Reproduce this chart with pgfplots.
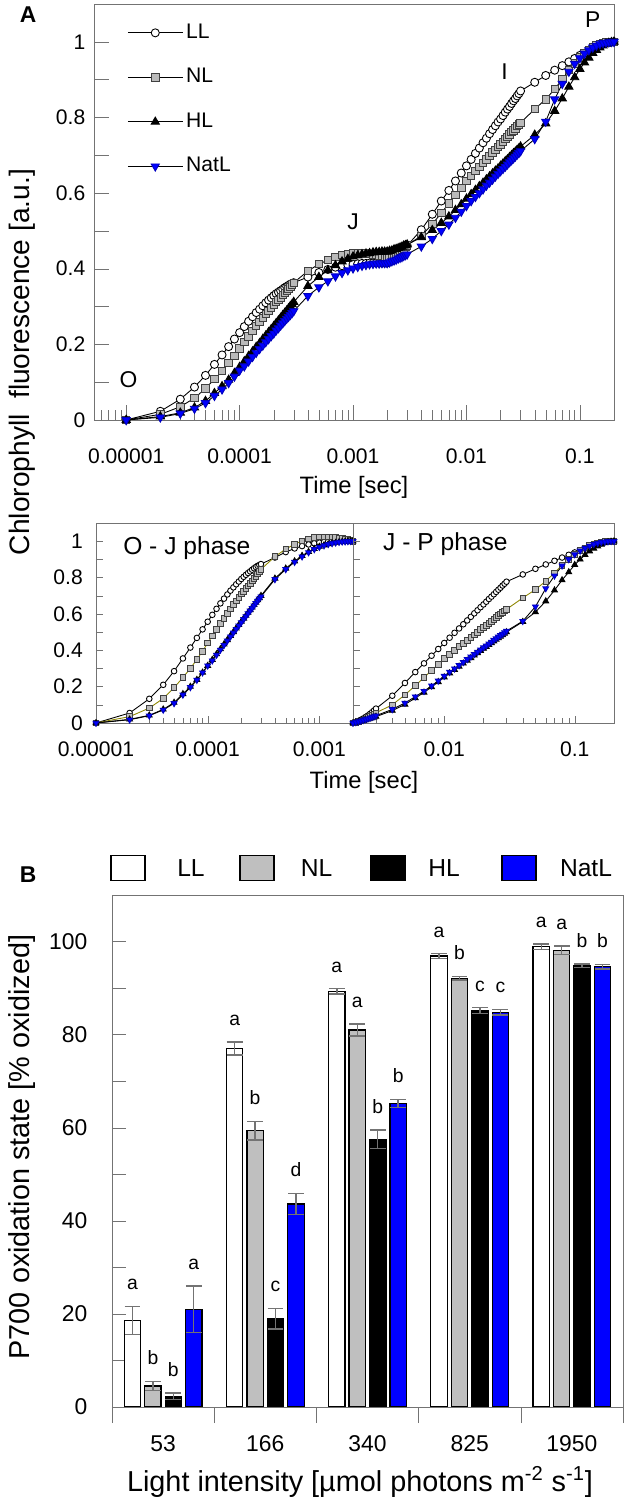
\documentclass[border=0pt]{standalone}
\usepackage{fontspec}
\setmainfont{Liberation Sans}
\usepackage{pgfplots}
\usepackage{pgfplotstable}
\pgfplotsset{compat=1.18}

\newcommand{\fsz}[1]{\fontsize{#1pt}{#1pt}\selectfont}

% OJIP transients, (F-F0)/(Fm-F0)
\pgfplotstableread{
t LL NL HL NatL
1e-5 0 0 0 0
2e-5 0.023 0.015 0.009 0.007
3e-5 0.055 0.035 0.019 0.017
4e-5 0.087 0.058 0.033 0.030
5e-5 0.118 0.083 0.050 0.045
6e-5 0.147 0.108 0.071 0.064
7e-5 0.172 0.129 0.089 0.081
8e-5 0.194 0.151 0.106 0.098
9e-5 0.214 0.170 0.124 0.115
1.0e-4 0.231 0.189 0.140 0.131
1.1e-4 0.247 0.206 0.155 0.142
1.2e-4 0.261 0.221 0.169 0.155
1.3e-4 0.273 0.235 0.181 0.167
1.4e-4 0.284 0.248 0.193 0.178
1.5e-4 0.293 0.259 0.203 0.188
1.6e-4 0.302 0.270 0.214 0.197
1.7e-4 0.310 0.280 0.223 0.206
1.8e-4 0.317 0.289 0.232 0.214
1.9e-4 0.323 0.297 0.240 0.222
2.0e-4 0.329 0.305 0.248 0.229
2.1e-4 0.334 0.312 0.256 0.237
2.2e-4 0.338 0.318 0.263 0.243
2.3e-4 0.342 0.324 0.270 0.250
2.4e-4 0.346 0.330 0.277 0.256
2.5e-4 0.350 0.336 0.283 0.262
2.6e-4 0.353 0.341 0.289 0.268
2.7e-4 0.356 0.347 0.295 0.273
2.8e-4 0.359 0.352 0.301 0.278
2.9e-4 0.361 0.358 0.306 0.283
3.0e-4 0.363 0.363 0.312 0.288
4e-4 0.378 0.394 0.354 0.328
5e-4 0.390 0.412 0.378 0.351
6e-4 0.398 0.423 0.396 0.367
7e-4 0.404 0.431 0.409 0.380
8e-4 0.408 0.436 0.419 0.389
9e-4 0.410 0.439 0.426 0.396
1.0e-3 0.412 0.440 0.432 0.401
1.1e-3 0.413 0.440 0.435 0.405
1.2e-3 0.414 0.440 0.438 0.408
1.3e-3 0.414 0.440 0.440 0.410
1.4e-3 0.415 0.439 0.441 0.412
1.5e-3 0.415 0.438 0.443 0.413
1.6e-3 0.415 0.437 0.444 0.414
1.7e-3 0.415 0.435 0.444 0.414
1.8e-3 0.415 0.433 0.445 0.415
1.9e-3 0.415 0.432 0.445 0.415
2.0e-3 0.415 0.430 0.445 0.415
2.1e-3 0.418 0.432 0.447 0.417
2.2e-3 0.421 0.434 0.448 0.420
2.3e-3 0.426 0.437 0.451 0.422
2.4e-3 0.430 0.440 0.452 0.424
2.5e-3 0.434 0.443 0.454 0.427
2.6e-3 0.439 0.447 0.456 0.429
2.7e-3 0.444 0.450 0.458 0.431
2.8e-3 0.450 0.454 0.461 0.434
2.9e-3 0.455 0.458 0.462 0.436
3.0e-3 0.461 0.462 0.464 0.438
4e-3 0.503 0.487 0.483 0.459
5e-3 0.544 0.518 0.502 0.479
6e-3 0.579 0.547 0.521 0.500
7e-3 0.607 0.573 0.538 0.517
8e-3 0.632 0.595 0.555 0.535
9e-3 0.653 0.614 0.570 0.551
0.010 0.672 0.632 0.585 0.566
0.011 0.689 0.646 0.597 0.579
0.012 0.705 0.658 0.608 0.590
0.013 0.719 0.669 0.618 0.600
0.014 0.733 0.680 0.627 0.610
0.015 0.745 0.689 0.636 0.620
0.016 0.757 0.698 0.644 0.628
0.017 0.768 0.707 0.652 0.636
0.018 0.778 0.714 0.659 0.644
0.019 0.788 0.722 0.665 0.651
0.020 0.796 0.729 0.672 0.658
0.021 0.805 0.736 0.678 0.664
0.022 0.814 0.743 0.684 0.670
0.023 0.822 0.749 0.689 0.676
0.024 0.829 0.755 0.695 0.682
0.025 0.837 0.761 0.700 0.687
0.026 0.844 0.766 0.705 0.692
0.027 0.850 0.771 0.709 0.697
0.028 0.857 0.777 0.714 0.702
0.029 0.863 0.781 0.718 0.706
0.030 0.870 0.786 0.723 0.711
0.04 0.893 0.822 0.754 0.743
0.05 0.911 0.848 0.784 0.789
0.06 0.925 0.875 0.817 0.848
0.07 0.937 0.901 0.850 0.889
0.08 0.947 0.925 0.881 0.921
0.09 0.956 0.943 0.906 0.942
0.10 0.964 0.959 0.928 0.957
0.11 0.970 0.970 0.945 0.969
0.12 0.976 0.979 0.958 0.978
0.13 0.981 0.986 0.970 0.985
0.14 0.986 0.991 0.978 0.990
0.15 0.990 0.994 0.985 0.994
0.16 0.994 0.997 0.990 0.997
0.17 0.997 0.998 0.995 0.998
0.18 0.998 0.999 0.997 0.999
0.19 0.999 1.000 0.999 1.000
0.20 1.000 1.000 1.000 1.000
}\ojip

% O-J phase, normalised to F at 2 ms
\pgfplotstableread{
t LL NL HL NatL
1e-5 0 0 0 0
2e-5 0.055 0.035 0.020 0.018
3e-5 0.133 0.082 0.042 0.040
4e-5 0.210 0.135 0.075 0.072
5e-5 0.285 0.194 0.112 0.108
6e-5 0.355 0.250 0.160 0.155
7e-5 0.415 0.300 0.200 0.196
8e-5 0.468 0.350 0.238 0.236
9e-5 0.515 0.395 0.278 0.277
1.0e-4 0.557 0.440 0.315 0.315
1.1e-4 0.595 0.478 0.348 0.343
1.2e-4 0.628 0.514 0.379 0.374
1.3e-4 0.658 0.546 0.407 0.402
1.4e-4 0.684 0.576 0.433 0.428
1.5e-4 0.707 0.603 0.457 0.452
1.6e-4 0.728 0.628 0.480 0.475
1.7e-4 0.746 0.651 0.501 0.496
1.8e-4 0.763 0.672 0.521 0.516
1.9e-4 0.778 0.691 0.540 0.535
2.0e-4 0.792 0.709 0.558 0.553
2.1e-4 0.804 0.725 0.575 0.570
2.2e-4 0.815 0.740 0.591 0.586
2.3e-4 0.825 0.754 0.607 0.602
2.4e-4 0.834 0.768 0.622 0.617
2.5e-4 0.843 0.781 0.636 0.631
2.6e-4 0.851 0.794 0.650 0.645
2.7e-4 0.858 0.807 0.663 0.658
2.8e-4 0.864 0.819 0.676 0.671
2.9e-4 0.869 0.832 0.688 0.683
3.0e-4 0.874 0.845 0.700 0.695
4e-4 0.910 0.915 0.795 0.790
5e-4 0.940 0.957 0.850 0.845
6e-4 0.960 0.983 0.890 0.885
7e-4 0.973 1.002 0.920 0.915
8e-4 0.982 1.013 0.942 0.938
9e-4 0.988 1.020 0.958 0.955
1.0e-3 0.992 1.023 0.970 0.967
1.1e-3 0.995 1.024 0.978 0.976
1.2e-3 0.997 1.024 0.984 0.983
1.3e-3 0.998 1.023 0.989 0.988
1.4e-3 0.999 1.021 0.992 0.992
1.5e-3 1.000 1.018 0.995 0.995
1.6e-3 1.000 1.015 0.997 0.997
1.7e-3 1.000 1.012 0.998 0.998
1.8e-3 1.000 1.008 0.999 0.999
1.9e-3 1.000 1.004 1.000 1.000
2.0e-3 1.000 1.000 1.000 1.000
}\oj

% J-P phase, normalised between F at 2 ms and Fm
\pgfplotstableread{
t LL NL HL NatL
2.0e-3 0 0 0 0
2.1e-3 0.005 0.003 0.003 0.004
2.2e-3 0.011 0.007 0.006 0.008
2.3e-3 0.018 0.012 0.010 0.012
2.4e-3 0.025 0.017 0.013 0.016
2.5e-3 0.033 0.023 0.017 0.020
2.6e-3 0.041 0.029 0.020 0.024
2.7e-3 0.050 0.035 0.024 0.028
2.8e-3 0.059 0.042 0.028 0.032
2.9e-3 0.069 0.049 0.031 0.036
3.0e-3 0.079 0.056 0.035 0.040
4e-3 0.150 0.100 0.068 0.075
5e-3 0.220 0.155 0.102 0.110
6e-3 0.280 0.205 0.137 0.145
7e-3 0.328 0.250 0.168 0.175
8e-3 0.370 0.290 0.198 0.205
9e-3 0.407 0.323 0.226 0.232
0.010 0.440 0.355 0.252 0.258
0.011 0.469 0.378 0.274 0.280
0.012 0.496 0.400 0.293 0.299
0.013 0.520 0.420 0.311 0.317
0.014 0.543 0.438 0.328 0.334
0.015 0.564 0.455 0.344 0.350
0.016 0.584 0.470 0.358 0.364
0.017 0.603 0.485 0.372 0.378
0.018 0.620 0.499 0.385 0.391
0.019 0.637 0.513 0.397 0.403
0.020 0.652 0.525 0.409 0.415
0.021 0.667 0.537 0.419 0.425
0.022 0.682 0.549 0.430 0.436
0.023 0.695 0.560 0.440 0.446
0.024 0.708 0.570 0.450 0.456
0.025 0.721 0.580 0.459 0.465
0.026 0.733 0.590 0.468 0.474
0.027 0.744 0.599 0.476 0.482
0.028 0.756 0.608 0.484 0.490
0.029 0.766 0.616 0.492 0.498
0.030 0.777 0.625 0.500 0.506
0.04 0.817 0.688 0.557 0.560
0.05 0.848 0.734 0.610 0.640
0.06 0.872 0.780 0.670 0.740
0.07 0.892 0.826 0.730 0.810
0.08 0.910 0.868 0.786 0.865
0.09 0.925 0.900 0.830 0.900
0.10 0.938 0.928 0.870 0.927
0.11 0.949 0.948 0.900 0.947
0.12 0.959 0.963 0.925 0.962
0.13 0.968 0.975 0.945 0.974
0.14 0.976 0.984 0.960 0.983
0.15 0.983 0.990 0.972 0.989
0.16 0.989 0.994 0.982 0.994
0.17 0.994 0.997 0.990 0.997
0.18 0.997 0.999 0.995 0.999
0.19 0.999 1.000 0.998 1.000
0.20 1.000 1.000 1.000 1.000
}\jp

% P700 oxidation (mean, error)
\pgfplotstableread{
x LL LLe NL NLe HL HLe NatL NatLe
0 18.6 3.0 4.5 1.0 2.3 0.7 21.0 5.0
1 77.0 1.4 59.4 2.0 19.0 2.2 43.6 2.3
2 89.3 0.6 81.0 1.3 57.5 2.0 65.2 0.9
3 96.9 0.5 92.1 0.4 85.2 0.6 84.8 0.6
4 98.9 0.6 98.1 0.9 94.8 0.4 94.6 0.5
}\pseven

% letters: bar position, top of error bar, letter
\pgfplotstableread{
x y lab
-0.3 21.6 a
-0.1 5.5 b
0.1 3.0 b
0.3 26.0 a
0.7 78.4 a
0.9 61.4 b
1.1 21.2 c
1.3 45.9 d
1.7 89.9 a
1.9 82.3 a
2.1 59.5 b
2.3 66.1 b
2.7 97.4 a
2.9 92.5 b
3.1 85.8 c
3.3 85.4 c
3.7 99.5 a
3.9 99.0 a
4.1 95.2 b
4.3 95.1 b
}\letters

\definecolor{axgray}{gray}{0.45}

\pgfplotsset{
  sLL/.style={black, line width=0.5pt, mark=*, mark options={fill=white, draw=black, line width=0.5pt}},
  sNL/.style={black, line width=0.5pt, mark=square*, mark options={fill=black!27, draw=black!75, line width=0.5pt}},
  sHL/.style={black, line width=0.5pt, mark=triangle*, mark options={fill=black, draw=black}},
  sNatL/.style={black, line width=0.5pt, mark=triangle*, mark options={rotate=180, fill=blue, draw=blue!75!black}},
  perr/.style={error bars/.cd, y dir=both, y explicit,
    error bar style={axgray, line width=0.8pt},
    error mark options={rotate=90, mark size=4.5pt, axgray, line width=0.8pt}},
}

\begin{document}
\begin{tikzpicture}
\path[use as bounding box] (0,0) rectangle (12.6,30.1);

% ---------- panel A, full transient
\begin{axis}[
  xmode=log, scale only axis, anchor=south west,
  at={(1.88cm,21.70cm)}, width=10.4cm, height=8.32cm,
  xmin=5.2e-6, xmax=0.2, ymin=0, ymax=1.1,
  xtick={1e-5,1e-4,1e-3,1e-2,1e-1},
  xticklabels={0.00001,0.0001,0.001,0.01,0.1},
  minor xtick={6e-6,7e-6,8e-6,9e-6,2e-5,3e-5,4e-5,5e-5,6e-5,7e-5,8e-5,9e-5,
    2e-4,3e-4,4e-4,5e-4,6e-4,7e-4,8e-4,9e-4,2e-3,3e-3,4e-3,5e-3,6e-3,7e-3,8e-3,9e-3,
    2e-2,3e-2,4e-2,5e-2,6e-2,7e-2,8e-2,9e-2},
  ytick={0,0.1,0.2,0.3,0.4,0.5,0.6,0.7,0.8,0.9,1},
  yticklabels={0,,0.2,,0.4,,0.6,,0.8,,1},
  xtick pos=left, ytick pos=left, tick align=inside,
  axis line style={axgray}, tick style={axgray},
  tick label style={font=\fsz{12}},
  major tick length=0.3cm, minor tick length=0.2cm,
  xticklabel shift=0.45cm, yticklabel shift=0.05cm,
  legend style={at={(rel axis cs:0,1)}, anchor=north west, xshift=0.66cm, yshift=-0.38cm,
    draw=none, fill=none, inner sep=0pt, row sep=0.51cm, column sep=0.06cm,
    font=\fsz{12}, nodes={inner sep=0pt, text height=0.3cm, text depth=0.08cm}},
  legend cell align=left,
  legend image code/.code={\draw[mark repeat=2, mark phase=2, #1]
    plot coordinates {(0cm,0cm) (0.55cm,0cm) (1.1cm,0cm)};},
]
\addplot[sLL, mark size=2.3pt] table[x=t, y=LL] {\ojip};
\addplot[sNL, mark size=2.1pt] table[x=t, y=NL] {\ojip};
\addplot[sHL, mark size=2.7pt] table[x=t, y=HL] {\ojip};
\addplot[sNatL, mark size=2.7pt] table[x=t, y=NatL] {\ojip};
\legend{LL,NL,HL,NatL}
\node[font=\fsz{13}] at (axis cs:1.05e-5,0.106) {O};
\node[font=\fsz{13}] at (axis cs:1e-3,0.525) {J};
\node[font=\fsz{13}] at (axis cs:0.0217,0.921) {I};
\node[font=\fsz{13}] at (axis cs:0.13,1.058) {P};
\end{axis}

% ---------- panel A, O-J phase
\begin{axis}[
  xmode=log, scale only axis, anchor=south west,
  at={(1.92cm,15.64cm)}, width=5.14cm, height=4cm,
  xmin=1e-5, xmax=2e-3, ymin=0, ymax=1.1,
  xtick={1e-5,1e-4,1e-3}, xticklabels={0.00001,0.0001,0.001},
  minor xtick={2e-5,3e-5,4e-5,5e-5,6e-5,7e-5,8e-5,9e-5,2e-4,3e-4,4e-4,5e-4,6e-4,7e-4,8e-4,9e-4},
  ytick={0,0.1,0.2,0.3,0.4,0.5,0.6,0.7,0.8,0.9,1},
  yticklabels={0,,0.2,,0.4,,0.6,,0.8,,1},
  xtick pos=left, ytick pos=left, tick align=inside,
  axis line style={axgray}, tick style={axgray},
  tick label style={font=\fsz{12}},
  major tick length=0.14cm, minor tick length=0.1cm,
  xticklabel shift=0.25cm, yticklabel shift=0.14cm,
]
\addplot[sLL, mark size=1.6pt] table[x=t, y=LL] {\oj};
\addplot[sNL, olive, mark size=1.6pt] table[x=t, y=NL] {\oj};
\addplot[sHL, mark size=1.9pt] table[x=t, y=HL] {\oj};
\addplot[sNatL, mark size=1.9pt] table[x=t, y=NatL] {\oj};
\node[anchor=west, font=\fsz{14}] at (rel axis cs:0.082,0.875) {O - J phase};
\end{axis}

% ---------- panel A, J-P phase
\begin{axis}[
  xmode=log, scale only axis, anchor=south west,
  at={(7.06cm,15.64cm)}, width=5.22cm, height=4cm,
  xmin=2e-3, xmax=0.2, ymin=0, ymax=1.1,
  xtick={1e-2,1e-1}, xticklabels={0.01,0.1},
  minor xtick={3e-3,4e-3,5e-3,6e-3,7e-3,8e-3,9e-3,2e-2,3e-2,4e-2,5e-2,6e-2,7e-2,8e-2,9e-2},
  ytick={0,0.1,0.2,0.3,0.4,0.5,0.6,0.7,0.8,0.9,1},
  yticklabels={},
  xtick pos=left, ytick pos=left, tick align=inside,
  axis line style={axgray}, tick style={axgray},
  tick label style={font=\fsz{12}},
  major tick length=0.14cm, minor tick length=0.1cm,
  xticklabel shift=0.25cm,
]
\addplot[sLL, mark size=1.6pt] table[x=t, y=LL] {\jp};
\addplot[sNL, olive, mark size=1.6pt] table[x=t, y=NL] {\jp};
\addplot[sHL, mark size=1.9pt] table[x=t, y=HL] {\jp};
\addplot[sNatL, mark size=1.9pt] table[x=t, y=NatL] {\jp};
\node[anchor=west, font=\fsz{14}] at (rel axis cs:0.092,0.893) {J - P phase};
\end{axis}

\node[font=\bfseries\fsz{13}] at (0.56,29.8) {A};
\node[font=\fsz{13.5}] at (7.08,20.36) {Time [sec]};
\node[font=\fsz{13.5}] at (7.28,14.46) {Time [sec]};
\node[font=\fsz{16}, rotate=90] at (0.44,22.86) {Chlorophyll\ \ fluorescence [a.u.]};

% ---------- panel B
\begin{axis}[
  scale only axis, anchor=south west,
  at={(2.24cm,1.96cm)}, width=10.22cm, height=10.24cm,
  ybar, bar width=0.16,
  xmin=-0.5, xmax=4.5, ymin=0, ymax=110,
  xtick={0,1,2,3,4}, xticklabels={53,166,340,825,1950},
  extra x ticks={-0.5,0.5,1.5,2.5,3.5,4.5}, extra x tick labels={},
  extra x tick style={tick align=outside, major tick length=0.32cm},
  ytick={0,20,40,60,80,100}, yticklabels={0,20,40,60,80,100},
  minor ytick={0,10,20,30,40,50,60,70,80,90,100},
  major tick length=0pt, minor tick length=0.28cm,
  xtick pos=left, ytick pos=left, tick align=inside,
  axis line style={axgray}, tick style={axgray},
  tick label style={font=\fsz{13}},
  xticklabel shift=0.45cm, yticklabel shift=0.37cm,
]
\addplot[bar shift=-0.3, fill=white, draw=black, line width=0.7pt, perr]
  table[x=x, y=LL, y error=LLe] {\pseven};
\addplot[bar shift=-0.1, fill=black!25, draw=black, line width=0.7pt, perr]
  table[x=x, y=NL, y error=NLe] {\pseven};
\addplot[bar shift=0.1, fill=black, draw=black, line width=0.7pt, perr]
  table[x=x, y=HL, y error=HLe] {\pseven};
\addplot[bar shift=0.3, fill=blue, draw=black, line width=0.7pt, perr]
  table[x=x, y=NatL, y error=NatLe] {\pseven};
\end{axis}

% significance letters, on an overlaid axis with the same frame
\begin{axis}[
  scale only axis, anchor=south west, hide axis,
  at={(2.24cm,1.96cm)}, width=10.22cm, height=10.24cm,
  xmin=-0.5, xmax=4.5, ymin=0, ymax=110,
]
\addplot[only marks, mark=none, nodes near coords, point meta=explicit symbolic,
  every node near coord/.append style={font=\fsz{11}, inner sep=0pt, anchor=south, yshift=0.32cm}]
  table[x=x, y=y, meta=lab] {\letters};
\end{axis}

\node[font=\bfseries\fsz{13}] at (0.56,12.6) {B};
\foreach \xa/\col/\lab/\xt in {2.22/white/LL/3.82, 4.80/black!25/NL/6.33, 7.42/black/HL/8.88, 10.04/blue/NatL/11.72}{
  \draw[fill=\col, draw=black, line width=0.8pt] (\xa,12.49) rectangle ++(0.68,0.5);
  \node[font=\fsz{14}] at (\xt,12.74) {\lab};
}
\node[font=\fsz{16.4}, rotate=90] at (0.44,7.16) {P700 oxidation state [\% oxidized]};
\node[font=\fsz{16.4}] at (7.2,0.46) {Light intensity [µmol photons m\textsuperscript{-2} s\textsuperscript{-1}]};
\end{tikzpicture}
\end{document}
